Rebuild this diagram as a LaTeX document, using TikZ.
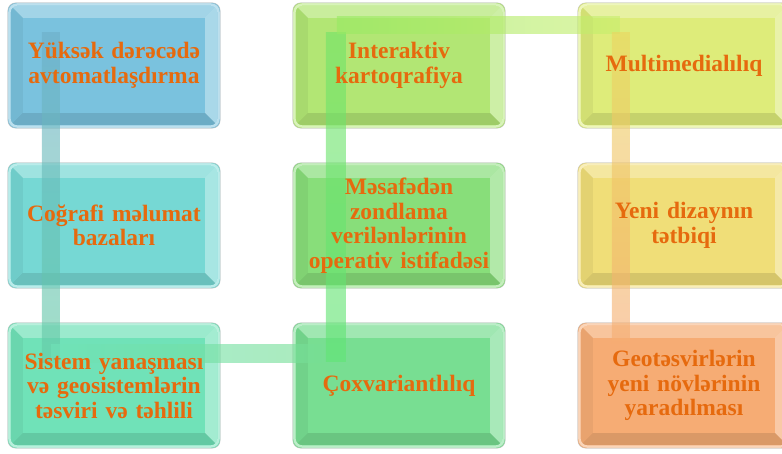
\documentclass[tikz,border=0pt]{standalone}
\usepackage{fontspec}
\setmainfont{Liberation Serif}
\usetikzlibrary{calc}
\pgfdeclarelayer{bg}\pgfdeclarelayer{mid}
\pgfsetlayers{bg,mid,main}
\definecolor{txt}{RGB}{230,106,14}
\definecolor{cA}{RGB}{122,194,222}
\definecolor{cB}{RGB}{118,216,212}
\definecolor{cC}{RGB}{112,226,184}
\definecolor{cD}{RGB}{120,222,146}
\definecolor{cE}{RGB}{136,222,122}
\definecolor{cF}{RGB}{178,230,116}
\definecolor{cG}{RGB}{222,236,122}
\definecolor{cH}{RGB}{240,222,120}
\definecolor{cI}{RGB}{246,172,116}
\definecolor{barY}{RGB}{236,214,96}
\tikzset{
  x=1pt,y=1pt,
  lbl/.style={font=\bfseries\fontsize{23.5}{24.5}\selectfont, text=txt, align=center,
    minimum width=212pt, minimum height=125pt, inner sep=0pt, text width=208pt},
  bar/.style={fill opacity=0.62},
}
\newcommand{\bevbox}[2]{%
 \begin{pgfonlayer}{bg}
  \fill[#2, rounded corners=8pt] (#1.south west) rectangle (#1.north east);
  \fill[white, opacity=0.30] ($(#1.north west)+(3,-3)$) -- ($(#1.north east)+(-3,-3)$) -- ($(#1.north east)+(-15,-15)$) -- ($(#1.north west)+(15,-15)$) -- cycle;
  \fill[white, opacity=0.36] ($(#1.north east)+(-3,-3)$) -- ($(#1.south east)+(-3,3)$) -- ($(#1.south east)+(-15,15)$) -- ($(#1.north east)+(-15,-15)$) -- cycle;
  \fill[black, opacity=0.05] ($(#1.north west)+(3,-3)$) -- ($(#1.south west)+(3,3)$) -- ($(#1.south west)+(15,15)$) -- ($(#1.north west)+(15,-15)$) -- cycle;
  \fill[black, opacity=0.11] ($(#1.south west)+(3,3)$) -- ($(#1.south east)+(-3,3)$) -- ($(#1.south east)+(-15,15)$) -- ($(#1.south west)+(15,15)$) -- cycle;
  \draw[#2!50!white, line width=2.4pt, rounded corners=8pt] ($(#1.south west)+(1.6,1.6)$) rectangle ($(#1.north east)+(-1.6,-1.6)$);
  \draw[black!30, opacity=0.55, line width=0.7pt, rounded corners=8pt] (#1.south west) rectangle (#1.north east);
 \end{pgfonlayer}}
\begin{document}
\begin{tikzpicture}
\useasboundingbox (0,0) rectangle (782,453);
\clip (0,0) rectangle (782,453);
% nodes (text)
\node[lbl] (b1) at (114,387.5) {Yüksək dərəcədə\\avtomatlaşdırma};
\node[lbl] (b2) at (114,227.5) {Coğrafi məlumat\\bazaları};
\node[lbl] (b3) at (114,67.5) {Sistem yanaşması\\və geosistemlərin\\təsviri və təhlili};
\node[lbl] (b4) at (399,387.5) {Interaktiv\\kartoqrafiya};
\node[lbl] (b5) at (399,227.5) {Məsafədən\\zondlama\\verilənlərinin\\operativ istifadəsi};
\node[lbl] (b6) at (399,67.5) {Çoxvariantlılıq};
\node[lbl] (b7) at (684,387.5) {Multimedialılıq};
\node[lbl] (b8) at (684,227.5) {Yeni dizaynın\\tətbiqi};
\node[lbl] (b9) at (684,67.5) {Geotəsvirlərin\\yeni növlərinin\\yaradılması};
\bevbox{b1}{cA}\bevbox{b2}{cB}\bevbox{b3}{cC}
\bevbox{b4}{cF}\bevbox{b5}{cE}\bevbox{b6}{cD}
\bevbox{b7}{cG}\bevbox{b8}{cH}\bevbox{b9}{cI}
% connector path
\coordinate (p0) at ($(b1.north west)+(43,-30)$);
\coordinate (p1) at ($(b3.north west)+(43,-40)$);
\coordinate (q1) at ($(b3.north west)+(43,-31)$);
\coordinate (q2) at ($(b6.north west)+(47,-31)$);
\coordinate (p2) at ($(b6.north west)+(43,-39)$);
\coordinate (p3) at ($(b4.north west)+(43,-30)$);
\coordinate (q3) at ($(b4.north west)+(44,-22)$);
\coordinate (q4) at ($(b7.north west)+(42,-22)$);
\coordinate (p4) at ($(b7.north west)+(43,-30)$);
\coordinate (p5) at ($(b9.north west)+(43,-29)$);
\begin{pgfonlayer}{mid}
\shade[bar, top color=cA!90!black, bottom color=cC!90!black] ($(p0)+(-9,0)$) rectangle ($(p1)+(9,0)$);
\shade[bar, left color=cC, right color=cD] ($(q1)+(0,-9)$) rectangle ($(q2)+(0,9)$);
\shade[bar, bottom color=cD!80!green, top color=cE!85!green] ($(p2)+(-10,0)$) rectangle ($(p3)+(10,0)$);
\shade[bar, left color=cF!85!green, right color=cG!90!green] ($(q3)+(0,-8.5)$) rectangle ($(q4)+(0,8.5)$);
\shade[bar, top color=barY, middle color=barY!55!cI, bottom color=cI] ($(p4)+(-9,0)$) rectangle ($(p5)+(9,0)$);
\end{pgfonlayer}
\end{tikzpicture}
\end{document}
